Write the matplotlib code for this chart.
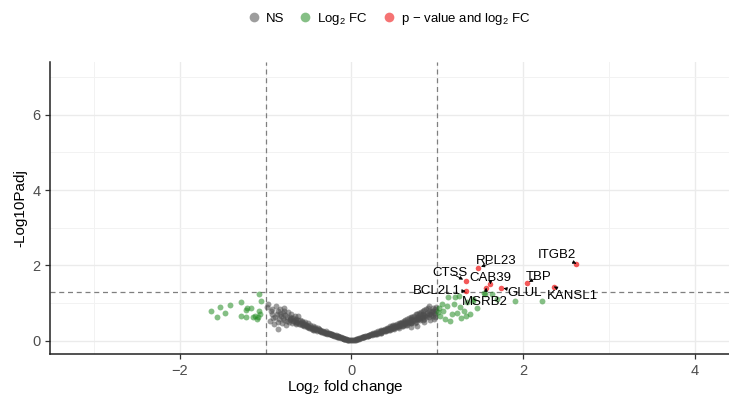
import numpy as np
import matplotlib
matplotlib.use("Agg")
import matplotlib.pyplot as plt
from matplotlib.lines import Line2D

plt.rcParams['font.family'] = ['Liberation Sans', 'DejaVu Sans']
plt.rcParams['mathtext.fontset'] = 'custom'
plt.rcParams['mathtext.rm'] = 'Liberation Sans'
plt.rcParams['mathtext.it'] = 'Liberation Sans:italic'

# not significant genes (grey)
ns_x = [-0.98, -0.97, -0.95, -0.94, -0.92, -0.91, -0.90, -0.88, -0.87, -0.86, -0.85, -0.84, -0.83, -0.82,
        -0.81, -0.80, -0.79, -0.78, -0.77, -0.76, -0.75, -0.74, -0.73, -0.72, -0.71, -0.70, -0.69, -0.68,
        -0.67, -0.66, -0.65, -0.64, -0.63, -0.62, -0.61, -0.60, -0.59, -0.58, -0.57, -0.56, -0.55, -0.54,
        -0.53, -0.52, -0.51, -0.50, -0.49, -0.48, -0.47, -0.46, -0.45, -0.44, -0.43, -0.42, -0.41, -0.40,
        -0.39, -0.38, -0.37, -0.36, -0.35, -0.34, -0.33, -0.32, -0.31, -0.30, -0.29, -0.28, -0.27, -0.26,
        -0.25, -0.24, -0.23, -0.22, -0.21, -0.20, -0.19, -0.18, -0.17, -0.16, -0.15, -0.14, -0.13, -0.12,
        -0.11, -0.10, -0.09, -0.08, -0.07, -0.06, -0.05, -0.04, -0.03, -0.02, -0.01,
        -0.72, -0.68, -0.64, -0.60, -0.56, -0.52, -0.48, -0.44, -0.40, -0.36, -0.32, -0.28, -0.24, -0.20,
        -0.16, -0.12, -0.08, -0.04,
        -0.93, -0.89, -0.85, -0.80, -0.78, -0.75, -0.70, -0.66, -0.62, -0.58, -0.54, -0.50, -0.46, -0.42,
        -0.38, -0.34, -0.30, -0.26, -0.22, -0.18, -0.14, -0.10, -0.06, -0.45, -0.35, -0.25, -0.15, -0.55,
        -0.65, -0.83,
        0.01, 0.02, 0.03, 0.04, 0.05, 0.06, 0.07, 0.08, 0.09, 0.10, 0.11, 0.12, 0.13, 0.14, 0.15, 0.16,
        0.17, 0.18, 0.19, 0.20, 0.21, 0.22, 0.23, 0.24, 0.25, 0.26, 0.27, 0.28, 0.29, 0.30, 0.31, 0.32,
        0.33, 0.34, 0.35, 0.36, 0.37, 0.38, 0.39, 0.40, 0.41, 0.42, 0.43, 0.44, 0.45, 0.46, 0.47, 0.48,
        0.49, 0.50, 0.51, 0.52, 0.53, 0.54, 0.55, 0.56, 0.57, 0.58, 0.59, 0.60, 0.61, 0.62, 0.63, 0.64,
        0.65, 0.66, 0.67, 0.68, 0.69, 0.70, 0.71, 0.72, 0.73, 0.74, 0.75, 0.76, 0.77, 0.78, 0.79, 0.80,
        0.81, 0.82, 0.83, 0.84, 0.85, 0.86, 0.87, 0.88, 0.89, 0.90, 0.91, 0.92, 0.93, 0.94, 0.95, 0.96,
        0.97, 0.98, 0.99,
        0.30, 0.35, 0.40, 0.45, 0.50, 0.55, 0.60, 0.65, 0.70, 0.75, 0.80, 0.85, 0.90, 0.62, 0.68, 0.72,
        0.78, 0.82, 0.88, 0.93, 0.58, 0.52, 0.46, 0.42, 0.38, 0.97, 0.84, 0.76, 0.77, 0.70, 0.85,
        0.95, 0.92, 0.87, 0.83, 0.79, 0.74, 0.69, 0.64, 0.59, 0.54, 0.49, 0.44, 0.39, 0.34, 0.29, 0.24,
        0.19, 0.14, 0.09, 0.05, 0.15, 0.25, 0.35, 0.45, 0.55, 0.65, 0.75, 0.85, 0.95, 0.99, 0.96, 0.90,
        0.80, 0.70, 0.60, 0.50]
ns_y = [0.90, 0.97, 0.52, 0.78, 0.85, 0.60, 0.44, 0.92, 0.70, 0.32, 0.80, 0.58, 0.84, 0.66,
        0.48, 0.75, 0.88, 0.55, 0.69, 0.42, 0.62, 0.77, 0.50, 0.64, 0.56, 0.71, 0.47, 0.60,
        0.53, 0.66, 0.44, 0.57, 0.50, 0.67, 0.45, 0.54, 0.48, 0.41, 0.52, 0.46, 0.38, 0.49,
        0.43, 0.36, 0.46, 0.40, 0.33, 0.42, 0.37, 0.31, 0.39, 0.34, 0.29, 0.36, 0.31, 0.27,
        0.33, 0.28, 0.25, 0.30, 0.26, 0.23, 0.27, 0.24, 0.21, 0.25, 0.21, 0.19, 0.22, 0.19,
        0.17, 0.19, 0.16, 0.15, 0.16, 0.14, 0.13, 0.13, 0.11, 0.11, 0.10, 0.09, 0.09, 0.08,
        0.07, 0.07, 0.06, 0.05, 0.05, 0.04, 0.03, 0.03, 0.02, 0.01, 0.01,
        0.58, 0.52, 0.48, 0.44, 0.42, 0.40, 0.35, 0.32, 0.30, 0.27, 0.22, 0.20, 0.17, 0.15,
        0.12, 0.09, 0.06, 0.02,
        0.70, 0.62, 0.50, 0.60, 0.80, 0.52, 0.60, 0.55, 0.55, 0.50, 0.44, 0.36, 0.35, 0.31,
        0.31, 0.26, 0.22, 0.21, 0.17, 0.15, 0.11, 0.08, 0.05, 0.30, 0.24, 0.18, 0.12, 0.42,
        0.50, 0.72,
        0.01, 0.02, 0.02, 0.03, 0.04, 0.04, 0.05, 0.06, 0.06, 0.07, 0.08, 0.09, 0.09, 0.10, 0.11, 0.12,
        0.12, 0.14, 0.13, 0.15, 0.16, 0.15, 0.18, 0.17, 0.20, 0.18, 0.21, 0.19, 0.23, 0.21, 0.25, 0.22,
        0.27, 0.24, 0.28, 0.25, 0.30, 0.26, 0.32, 0.28, 0.34, 0.29, 0.35, 0.31, 0.38, 0.32, 0.39, 0.34,
        0.41, 0.35, 0.43, 0.37, 0.44, 0.38, 0.47, 0.40, 0.48, 0.41, 0.51, 0.43, 0.53, 0.44, 0.55, 0.46,
        0.58, 0.47, 0.60, 0.49, 0.62, 0.51, 0.64, 0.52, 0.67, 0.55, 0.70, 0.57, 0.72, 0.59, 0.75, 0.60,
        0.77, 0.62, 0.79, 0.64, 0.82, 0.66, 0.84, 0.68, 0.87, 0.70, 0.92, 0.72, 0.76, 0.80, 0.65, 0.74,
        0.85, 0.70, 0.78,
        0.18, 0.22, 0.25, 0.28, 0.31, 0.35, 0.39, 0.42, 0.46, 0.50, 0.54, 0.58, 0.62, 0.50, 0.55, 0.58,
        0.64, 0.68, 0.74, 0.68, 0.46, 0.40, 0.36, 0.32, 0.29, 0.62, 0.72, 0.63, 0.40, 0.36, 0.50,
        0.88, 0.55, 0.62, 0.55, 0.58, 0.48, 0.46, 0.42, 0.40, 0.36, 0.33, 0.29, 0.27, 0.21, 0.19, 0.16,
        0.14, 0.11, 0.07, 0.03, 0.09, 0.17, 0.25, 0.33, 0.41, 0.50, 0.58, 0.68, 0.80, 0.90, 0.58, 0.80,
        0.70, 0.58, 0.48, 0.38]

# |log2FC| > 1 only (green)
fc_x = [-1.63, -1.53, -1.56, -1.47, -1.41, -1.28, -1.28, -1.23, -1.21, -1.17, -1.23, -1.14, -1.10,
        -1.07, -1.06, -1.08, -1.05, -1.12, -1.09,
        1.05, 1.07, 1.03, 1.09, 1.15, 1.17, 1.19, 1.23, 1.27, 1.31, 1.38, 1.35, 1.21, 1.13, 1.42,
        1.56, 1.25, 1.54, 1.64, 1.91, 2.22, 1.42, 1.02, 1.11, 1.46, 1.33, 1.28, 1.01, 1.70]
fc_y = [0.80, 0.89, 0.64, 0.73, 0.95, 1.04, 0.67, 0.82, 0.87, 0.87, 0.62, 0.62, 0.58,
        0.80, 0.71, 1.24, 1.06, 0.66, 0.64,
        0.97, 0.80, 0.67, 0.58, 0.53, 0.71, 0.97, 0.75, 0.89, 0.80, 0.71, 1.02, 1.15, 1.15, 1.10,
        1.24, 1.19, 1.28, 1.24, 1.06, 1.06, 1.06, 0.88, 0.92, 0.86, 0.66, 0.60, 0.76, 1.12]

# p-value and log2FC (red), labelled
sig_genes = ['ITGB2', 'RPL23', 'CTSS', 'CAB39', 'MSRB2', 'GLUL', 'TBP', 'KANSL1', 'BCL2L1']
sig_x = [2.62, 1.48, 1.33, 1.62, 1.57, 1.74, 2.04, 2.36, 1.33]
sig_y = [2.05, 1.94, 1.59, 1.50, 1.41, 1.41, 1.53, 1.44, 1.32]
lab_x = [2.39, 1.69, 1.15, 1.62, 1.56, 2.02, 2.18, 2.57, 1.00]
lab_y = [2.29, 2.11, 1.81, 1.68, 1.02, 1.28, 1.70, 1.19, 1.32]

fig = plt.figure(figsize=(7.29, 4.03), dpi=100)
ax = fig.add_axes([50 / 729, 49 / 403, 686 / 729, 292 / 403])

ax.set_xlim(-3.51, 4.48)
ax.set_ylim(-0.35, 7.4)
ax.set_xticks([-2, 0, 2, 4])
ax.set_xticks([-3, -1, 1, 3], minor=True)
ax.set_yticks([0, 2, 4, 6])
ax.set_yticks([1, 3, 5, 7], minor=True)
ax.grid(True, which='major', color='#ebebeb', lw=1.0, zorder=0)
ax.grid(True, which='minor', color='#f2f2f2', lw=0.7, zorder=0)
ax.tick_params(which='minor', length=0)
ax.tick_params(which='major', length=3.5, width=0.9, color='#333333',
               labelcolor='#4d4d4d', labelsize=10.5)
for s in ['top', 'right']:
    ax.spines[s].set_visible(False)
for s in ['left', 'bottom']:
    ax.spines[s].set_linewidth(1.1)
    ax.spines[s].set_color('#222222')
ax.set_axisbelow(True)

ax.scatter(ns_x, ns_y, s=18, color='#4d4d4d', alpha=0.55, lw=0, zorder=3)
ax.scatter(fc_x, fc_y, s=18, color='#228B22', alpha=0.55, lw=0, zorder=3)
ax.scatter(sig_x, sig_y, s=16, color='#EE0000', alpha=0.65, lw=0, zorder=3)

for v in [-1, 1]:
    ax.axvline(v, color='#7f7f7f', lw=0.9, ls=(0, (4, 3)), zorder=2)
ax.axhline(-np.log10(0.05), color='#7f7f7f', lw=0.9, ls=(0, (4, 3)), zorder=2)

for g, px, py, tx, ty in zip(sig_genes, sig_x, sig_y, lab_x, lab_y):
    ax.annotate(g, xy=(px, py), xytext=(tx, ty), ha='center', va='center', fontsize=9.5,
                color='black', zorder=5,
                arrowprops=dict(arrowstyle='-|>', lw=0.6, color='black',
                                mutation_scale=5, shrinkA=3, shrinkB=2))

ax.set_ylabel('-Log10Padj', fontsize=11, color='black')
ax.yaxis.set_label_coords(-0.033, 0.5)
ax.set_xlabel('Log$_2$ fold change', fontsize=11, color='black')
ax.xaxis.set_label_coords((345 - 50) / 686, -0.082)

handles = [Line2D([], [], marker='o', ls='', ms=7, color='#4d4d4d', alpha=0.55, mew=0),
           Line2D([], [], marker='o', ls='', ms=7, color='#228B22', alpha=0.55, mew=0),
           Line2D([], [], marker='o', ls='', ms=7, color='#EE0000', alpha=0.55, mew=0)]
labels = ['NS', 'Log$_2$ FC', 'p \u2212 value and log$_2$ FC']
fig.legend(handles, labels, loc='center', bbox_to_anchor=(388 / 729, 1 - 19 / 403), ncol=3,
           frameon=False, fontsize=9.5, handletextpad=0.3, columnspacing=1.0, handlelength=1.2)

fig.savefig('out.png', dpi=100)
